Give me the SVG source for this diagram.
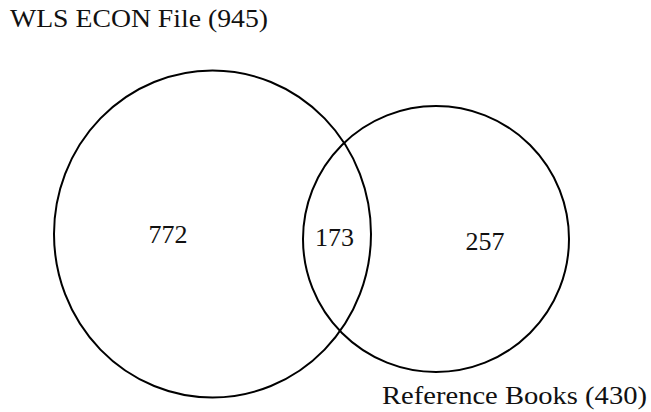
<svg xmlns="http://www.w3.org/2000/svg" width="651" height="412" viewBox="0 0 651 412">
<style>
.set{fill:none;stroke:#000;stroke-width:2}
.t{font-family:"Liberation Serif","Times New Roman",serif;font-size:26px;fill:#111}
.n{font-family:"Liberation Serif","Times New Roman",serif;font-size:26px;fill:#111;text-anchor:middle}
</style>
<rect width="651" height="412" fill="#fff"/>
<g id="wls-econ">
<ellipse class="set" cx="212.5" cy="234" rx="158.5" ry="163.5"/>
<text class="t" x="10" y="27" textLength="258" lengthAdjust="spacingAndGlyphs">WLS ECON File (945)</text>
<text class="n" x="168" y="243">772</text>
</g>
<g id="reference-books">
<circle class="set" cx="436" cy="239" r="133"/>
<text class="t" x="382" y="404" textLength="265" lengthAdjust="spacingAndGlyphs">Reference Books (430)</text>
<text class="n" x="485" y="250">257</text>
</g>
<g id="overlap">
<text class="n" x="334.5" y="246">173</text>
</g>
</svg>
